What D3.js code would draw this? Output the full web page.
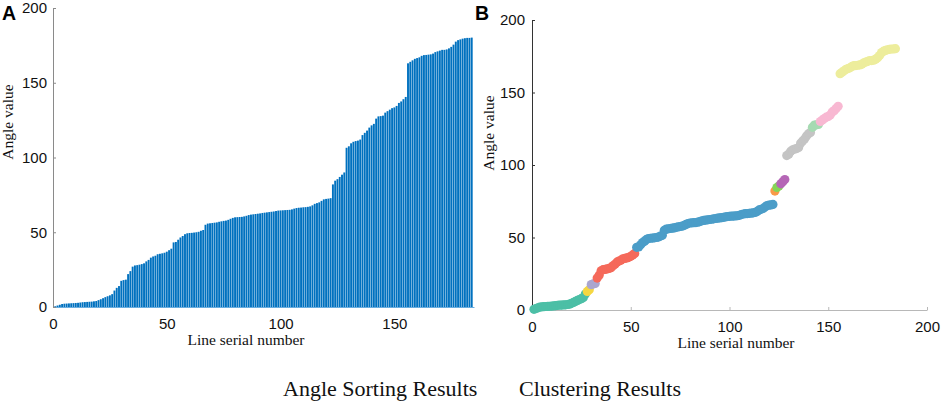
<!DOCTYPE html>
<html>
<head>
<meta charset="utf-8">
<script src="https://cdn.jsdelivr.net/npm/d3@7"></script>
<style>
  body { margin: 0; background: #fff; }
  svg { display: block; }
  .tick text { font-family: "Liberation Sans", Arial, sans-serif; font-size: 15px; fill: #111; }
  .title { font-family: "Liberation Serif", "Times New Roman", serif; font-size: 15.5px; fill: #111; }
  .caption { font-family: "Liberation Serif", "Times New Roman", serif; font-size: 22px; fill: #111; }
  .panel { font-family: "Liberation Sans", Arial, sans-serif; font-size: 19.5px; font-weight: bold; fill: #000; }
</style>
</head>
<body>
<svg id="chart" width="941" height="405"></svg>
<script>
// sorted angle of each line, serial number 1..184
const angleValues = [
  0.5, 1.0, 1.5, 2.0, 2.2, 2.3, 2.4, 2.5, 2.6, 2.7,
  2.8, 3.0, 3.2, 3.3, 3.4, 3.5, 3.6, 3.8, 4.0, 4.6,
  5.2, 5.9, 6.6, 7.2, 7.8, 8.6, 11.0, 12.8, 14.0, 17.5,
  18.0, 18.3, 22.0, 24.0, 27.0, 27.8, 28.0, 28.3, 28.7, 29.2,
  30.5, 31.5, 33.0, 33.8, 34.3, 35.3, 35.6, 35.9, 36.3, 37.0,
  38.0, 39.0, 43.2, 43.5, 45.0, 46.5, 47.5, 48.7, 49.3, 49.5,
  49.6, 49.8, 50.0, 50.3, 51.0, 51.5, 55.0, 55.8, 56.0, 56.2,
  56.4, 56.6, 57.0, 57.3, 57.6, 57.8, 58.3, 59.0, 59.6, 60.0,
  60.1, 60.2, 60.3, 60.6, 61.0, 61.5, 61.8, 62.0, 62.2, 62.4,
  62.6, 62.9, 63.1, 63.3, 63.5, 63.7, 63.9, 64.2, 64.5, 64.6,
  64.7, 64.8, 64.9, 65.0, 65.3, 65.8, 66.2, 66.4, 66.5, 66.7,
  66.8, 67.0, 67.3, 68.0, 69.0, 69.5, 70.0, 71.0, 72.0, 72.3,
  72.5, 72.8, 82.0, 84.5, 85.5, 87.0, 88.5, 90.0, 106.5, 107.5,
  109.5, 110.5, 111.0, 111.3, 112.0, 115.0, 116.5, 118.0, 120.0, 121.5,
  122.5, 126.0, 127.5, 127.7, 128.0, 130.0, 131.0, 132.0, 133.0, 133.5,
  134.5, 136.5, 137.5, 139.0, 140.5, 163.0, 164.0, 165.0, 166.0, 166.5,
  167.0, 168.0, 168.5, 168.6, 168.8, 169.0, 169.5, 170.5, 171.0, 171.5,
  172.0, 172.0, 172.3, 173.0, 174.0, 175.5, 177.5, 178.5, 179.0, 179.5,
  179.8, 180.0, 180.0, 180.2
];

// consecutive cluster sizes (in sorted order)
const clusterSizes = [27, 2, 3, 20, 70, 1, 2, 3, 13, 4, 10, 29];

const yTicks = [0, 50, 100, 150, 200];
const xTicksA = [0, 50, 100, 150];
const xTicksB = [0, 50, 100, 150, 200];

const clusterColor = d3.scaleOrdinal()
  .domain(d3.range(clusterSizes.length))
  .range(["#4cbfa6", "#f5d742", "#aaa6cf", "#f5695a", "#4b9dc8", "#f99a48",
          "#84d558", "#b566b6", "#c4c4c4", "#a6dab2", "#f8b8d2", "#eded9c"]);

// tag each value with its serial number and cluster
const clusterOf = clusterSizes.flatMap((n, c) => d3.range(n).map(() => c));
const points = angleValues.map((v, i) => ({ idx: i + 1, v, c: clusterOf[i] }));

const svg = d3.select("#chart");

// ---------- A: angle sorting (bars) ----------
const xA = d3.scaleLinear().domain([0, 185]).range([53, 474]);
const yA = d3.scaleLinear().domain([0, 200]).range([307, 8]);
const step = xA(1) - xA(0);

const gA = svg.append("g");

gA.selectAll("rect")
  .data(points)
  .enter()
  .append("rect")
  .attr("x", d => xA(d.idx) - step * 0.42)
  .attr("width", step * 0.84)
  .attr("y", d => yA(d.v))
  .attr("height", d => yA(0) - yA(d.v))
  .attr("fill", "#0071bf");

const axAx = gA.append("g")
  .attr("transform", `translate(0,${yA(0)})`)
  .call(d3.axisBottom(xA).tickValues(xTicksA).tickSize(0).tickPadding(11));
axAx.select(".domain").attr("stroke", "#6aaee0");

const ayA = gA.append("g")
  .attr("transform", `translate(${xA(0)},0)`)
  .call(d3.axisLeft(yA).tickValues(yTicks).tickSizeInner(-3).tickSizeOuter(0).tickPadding(6));
ayA.select(".domain").attr("stroke", "#8a8a8a");
ayA.selectAll(".tick line").attr("stroke", "#8a8a8a");

gA.append("text").attr("class", "title")
  .attr("text-anchor", "middle")
  .attr("transform", "translate(13,122) rotate(-90)")
  .text("Angle value");

gA.append("text").attr("class", "title")
  .attr("x", 246).attr("y", 345)
  .attr("text-anchor", "middle")
  .text("Line serial number");

gA.append("text").attr("class", "panel").attr("x", 2).attr("y", 20).text("A");

// ---------- B: clustering (scatter) ----------
const xB = d3.scaleLinear().domain([0, 200]).range([532, 927]);
const yB = d3.scaleLinear().domain([0, 200]).range([310, 20]);

const gB = svg.append("g");

const axB = gB.append("g")
  .attr("transform", `translate(0,${yB(0)})`)
  .call(d3.axisBottom(xB).tickValues(xTicksB).tickSizeInner(-3).tickSizeOuter(0).tickPadding(11));
axB.select(".domain").attr("stroke", "#b8b8b8");
axB.selectAll(".tick line").attr("stroke", "#b8b8b8");

const ayB = gB.append("g")
  .attr("transform", `translate(${xB(0)},0)`)
  .call(d3.axisLeft(yB).tickValues(yTicks).tickSizeInner(-3).tickSizeOuter(0).tickPadding(7));
ayB.select(".domain").attr("stroke", "#333");
ayB.selectAll(".tick line").attr("stroke", "#333");

gB.selectAll("circle")
  .data(points)
  .enter()
  .append("circle")
  .attr("cx", d => xB(d.idx))
  .attr("cy", d => yB(d.v))
  .attr("r", 4.6)
  .attr("fill", d => clusterColor(d.c));

gB.append("text").attr("class", "title")
  .attr("text-anchor", "middle")
  .attr("transform", "translate(494,133) rotate(-90)")
  .text("Angle value");

gB.append("text").attr("class", "title")
  .attr("x", 736).attr("y", 348)
  .attr("text-anchor", "middle")
  .text("Line serial number");

gB.append("text").attr("class", "panel").attr("x", 475).attr("y", 20).text("B");

// ---------- captions ----------
svg.append("text").attr("class", "caption").attr("x", 283).attr("y", 396).text("Angle Sorting Results");
svg.append("text").attr("class", "caption").attr("x", 519).attr("y", 396).text("Clustering Results");
</script>
</body>
</html>
